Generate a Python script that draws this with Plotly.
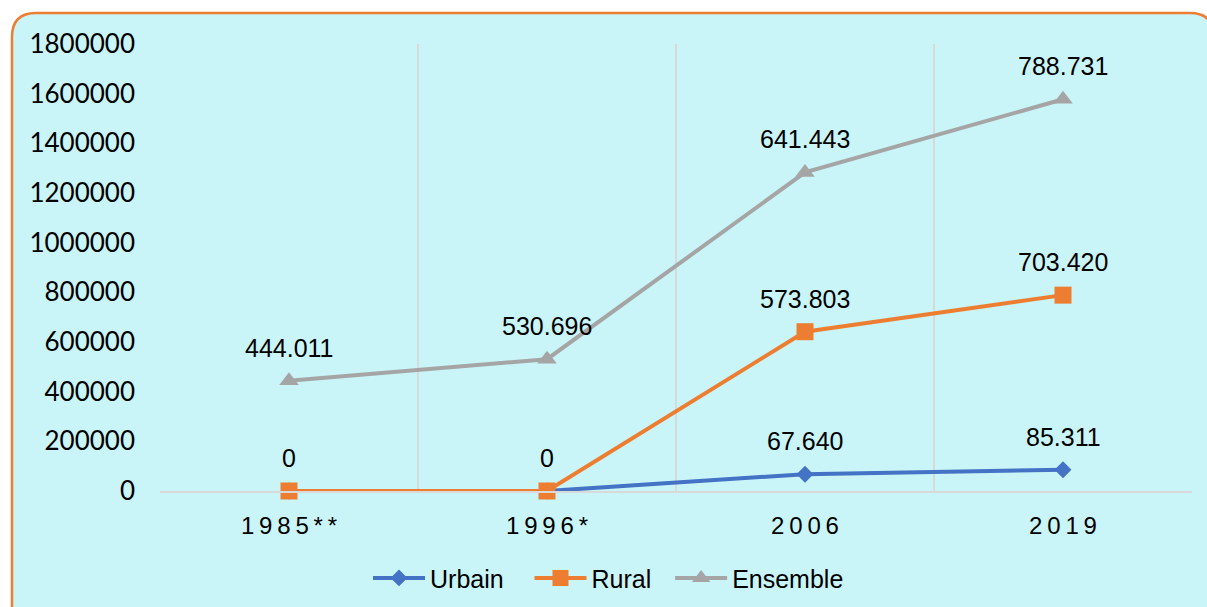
import plotly.graph_objects as go
import numpy as np

# data (stacked line chart, labels show the raw values)
years = ['1985**', '1996*', '2006', '2019']
urbain = [0, 0, 67640, 85311]
rural = [0, 0, 573803, 703420]
ensemble = [444011, 530696, 641443, 788731]
urbain_lbl = ['', '', '67.640', '85.311']
rural_lbl = ['0', '0', '573.803', '703.420']
ensemble_lbl = ['444.011', '530.696', '641.443', '788.731']
yticks = [0, 200000, 400000, 600000, 800000, 1000000, 1200000, 1400000, 1600000, 1800000]

BLUE = '#4472C4'
ORANGE = '#ED7D31'
GREY = '#A5A5A5'
BG = '#C9F5F8'

W, H = 1207, 607
ML, MR, MT, MB = 160, 15, 44, 116

# stacked values (as excel draws them)
s1 = np.array(urbain)
s2 = s1 + np.array(rural)
s3 = s2 + np.array(ensemble)

xs = ['\u2009'.join(y) for y in years]  # letter-spaced category labels

fig = go.Figure()
series = [
    ('Urbain', s1, BLUE, 'diamond', 13, urbain_lbl, 3),
    ('Rural', s2, ORANGE, 'square', 17, rural_lbl, 2),
    ('Ensemble', s3, GREY, 'triangle-up', 17, ensemble_lbl, 0),
]
for name, vals, col, sym, sz, lbl, gap in series:
    fig.add_trace(go.Scatter(
        x=xs, y=vals, name=name + '\u00a0' * gap, mode='lines+markers', cliponaxis=False,
        line=dict(color=col, width=4),
        marker=dict(symbol=sym, size=sz, color=col),
    ))
    for xv, yv, t in zip(xs, vals, lbl):
        if t:
            fig.add_annotation(x=xv, y=yv, text=t, showarrow=False, yshift=33,
                               font=dict(family='Liberation Sans, Arial', size=25, color='black'))


# rounded frame behind the chart, in paper units
pw, ph = W - ML - MR, H - MT - MB
def px(x):
    return (x - ML) / pw
def py(y):
    return (H - MB - y) / ph

x0, y0, x1, y1, r = 12, 13, 1214, 630, 24
path = (f'M {px(x0 + r)} {py(y0)} L {px(x1 - r)} {py(y0)} '
        f'Q {px(x1)} {py(y0)} {px(x1)} {py(y0 + r)} L {px(x1)} {py(y1 - r)} '
        f'Q {px(x1)} {py(y1)} {px(x1 - r)} {py(y1)} L {px(x0 + r)} {py(y1)} '
        f'Q {px(x0)} {py(y1)} {px(x0)} {py(y1 - r)} L {px(x0)} {py(y0 + r)} '
        f'Q {px(x0)} {py(y0)} {px(x0 + r)} {py(y0)} Z')
fig.add_shape(type='path', path=path, xref='paper', yref='paper', layer='below',
              fillcolor=BG, line=dict(color=ORANGE, width=2.5))

fig.update_layout(
    width=W, height=H,
    margin=dict(l=ML, r=MR, t=MT, b=MB, autoexpand=False),
    paper_bgcolor='white', plot_bgcolor='rgba(0,0,0,0)',
    font=dict(family='Liberation Sans, Arial', size=22, color='black'),
    showlegend=True,
    legend=dict(orientation='h', x=(368 - ML) / pw, xanchor='left', y=-0.195, yanchor='middle',
                font=dict(size=25), itemwidth=52,
                bgcolor='rgba(0,0,0,0)', traceorder='normal'),
    xaxis=dict(type='category', tickson='boundaries', showgrid=True, gridcolor='#D9D9D9',
               gridwidth=2, showline=True, linecolor='#D9D9D9', linewidth=2, ticks='',
               tickfont=dict(size=24), range=[-0.5, 3.5], zeroline=False,
               ticklabelstandoff=12),
    yaxis=dict(range=[0, 1800000], tickvals=yticks, ticktext=[str(v) for v in yticks],
               showgrid=False, zeroline=False, showline=False, ticks='',
               tickfont=dict(family='Lato', size=26), ticklabelstandoff=24),
)

fig.write_html('out.html', config={'displayModeBar': False},
               post_script="document.body.style.margin='0';document.body.style.overflow='hidden';")
